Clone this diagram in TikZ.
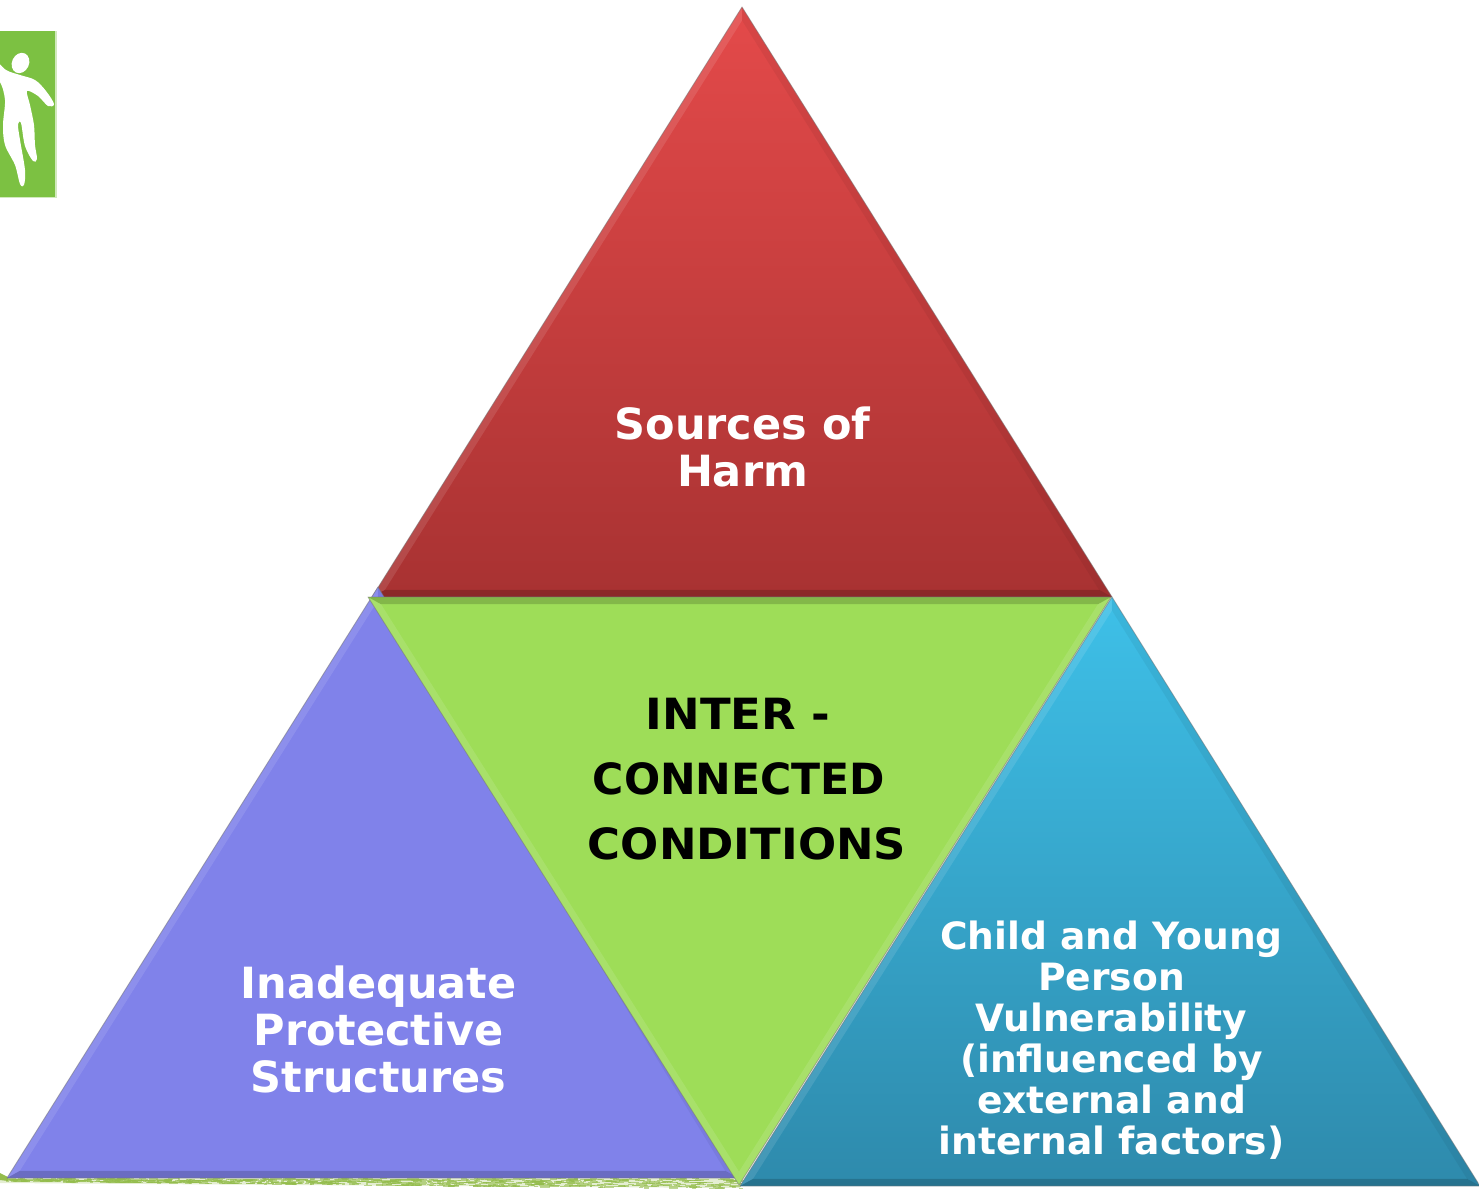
\documentclass[tikz,border=0pt]{standalone}
\usepackage{graphicx}
\usepackage{fontspec}
\setmainfont{DejaVu Sans}
\usetikzlibrary{calc}
\newcommand{\bevel}[9]{%
 % #1 A #2 B #3 C (corners) #4 incentre #5 inset factor #6 #7 #8 band overlays (AB, AC, BC) #9 fill options
 \coordinate (iA) at ($(#4)!#5!(#1)$);
 \coordinate (iB) at ($(#4)!#5!(#2)$);
 \coordinate (iC) at ($(#4)!#5!(#3)$);
 \path[#9] (#1) -- (#2) -- (#3) -- cycle;
 \fill[#6] (#1) -- (#2) -- (iB) -- (iA) -- cycle;
 \fill[#7] (#1) -- (#3) -- (iC) -- (iA) -- cycle;
 \fill[#8] (#2) -- (#3) -- (iC) -- (iB) -- cycle;
 \draw[edgeline] (#1) -- (#2) -- (#3) -- cycle;
}
\tikzset{
 x=1pt,y=-1pt,
 edgeline/.style={black!55,line width=0.9pt,opacity=.5,line join=round},
 lightband/.style={white,opacity=.11},
 softdark/.style={black,opacity=.05},
 darkband/.style={black,opacity=.17},
 whitetext/.style 2 args={text=white,font=\bfseries\fontsize{#1}{#2}\selectfont,align=center,inner sep=0pt},
 blacktext/.style={text=black,font=\bfseries\fontsize{43}{43}\selectfont,inner sep=0pt},
}
\definecolor{logogreen}{HTML}{7CC142}
\definecolor{grassgreen}{HTML}{94BC4C}
\begin{document}
\begin{tikzpicture}
\useasboundingbox (0,0) rectangle (1479,1188);
% logo
\fill[logogreen!35] (0,31) rectangle (56.5,198);
\fill[logogreen] (0,31) rectangle (55,197);
\begin{scope}
\clip (0,31) rectangle (55,197);
\fill[white,rotate around={-25:(20.5,63)}] (20.5,63) ellipse [x radius=8.5,y radius=10.5];
\fill[white] plot[smooth cycle,tension=.55] coordinates {(-8,58) (6,70) (20,75) (35,80) (46,91) (54,104) (48,106) (38,96) (27,91) (30,105) (34,125) (35,145) (37,159) (33,161) (25,146) (21,123) (18,125) (20,140) (25,170) (24,185) (20,184) (15,165) (5,145) (3,125) (5,100) (0,82) (-8,80)};
\end{scope}
% grass strip
\fill[grassgreen!25] (0,1175) -- (8,1177) -- (740,1178) -- (740,1188) -- (0,1183) -- cycle;
\fill[grassgreen] (0,1173) -- (8,1177) -- (8,1181) -- (0,1180) -- cycle;
\pgfmathsetseed{7}
\foreach \i in {1,...,1000}{
  \pgfmathsetmacro{\gx}{6+rnd*734}
  \pgfmathsetmacro{\gy}{1178+rnd*(3+\gx/100)}
  \pgfmathsetmacro{\gw}{2+rnd*10}
  \fill[grassgreen,opacity=.6] (\gx,\gy) rectangle (\gx+\gw,\gy+1.2);
}
% red
\coordinate (rA) at (742,7); \coordinate (rB) at (372,597); \coordinate (rC) at (1112,597);
\coordinate (rI) at (742,392);
\bevel{rA}{rB}{rC}{rI}{.965}{lightband}{softdark}{darkband}{top color={rgb,255:red,228;green,74;blue,74},bottom color={rgb,255:red,168;green,50;blue,50},shade}
% purple
\coordinate (pA) at (378,587); \coordinate (pB) at (7,1178); \coordinate (pC) at (738,1178);
\coordinate (pI) at (374,972);
\bevel{pA}{pB}{pC}{pI}{.965}{lightband}{softdark}{darkband}{fill={rgb,255:red,128;green,130;blue,234}}
% blue
\coordinate (bA) at (1112,597); \coordinate (bB) at (740,1186); \coordinate (bC) at (1480,1186);
\coordinate (bI) at (1110,982);
\bevel{bA}{bB}{bC}{bI}{.965}{lightband}{softdark}{darkband}{top color={rgb,255:red,62;green,192;blue,232},bottom color={rgb,255:red,46;green,138;blue,172},shade}
% green
\coordinate (gA) at (739,1185); \coordinate (gB) at (368,597); \coordinate (gC) at (1111,597);
\coordinate (gI) at (739,802);
\bevel{gA}{gB}{gC}{gI}{.965}{lightband}{lightband}{darkband}{fill={rgb,255:red,158;green,221;blue,88}}
% labels
\node[whitetext={43}{47}] (harm) at (742.5,447) {Sources of\\Harm};
\node[blacktext] (inter) at (738,714) {\scalebox{1.045}[1]{INTER -}};
\node[blacktext] (connected) at (739,779) {\scalebox{.99}[1]{CONNECTED}};
\node[blacktext] (conditions) at (747,844) {\scalebox{1.045}[1]{CONDITIONS}};
\node[whitetext={43}{47}] (protective) at (378.5,1029) {Inadequate\\Protective\\Structures};
\node[whitetext={37.6}{41}] (vulnerability) at (1111.5,1040) {Child and Young\\Person\\Vulnerability\\(influenced by\\external and\\internal factors)};
\end{tikzpicture}
\end{document}
